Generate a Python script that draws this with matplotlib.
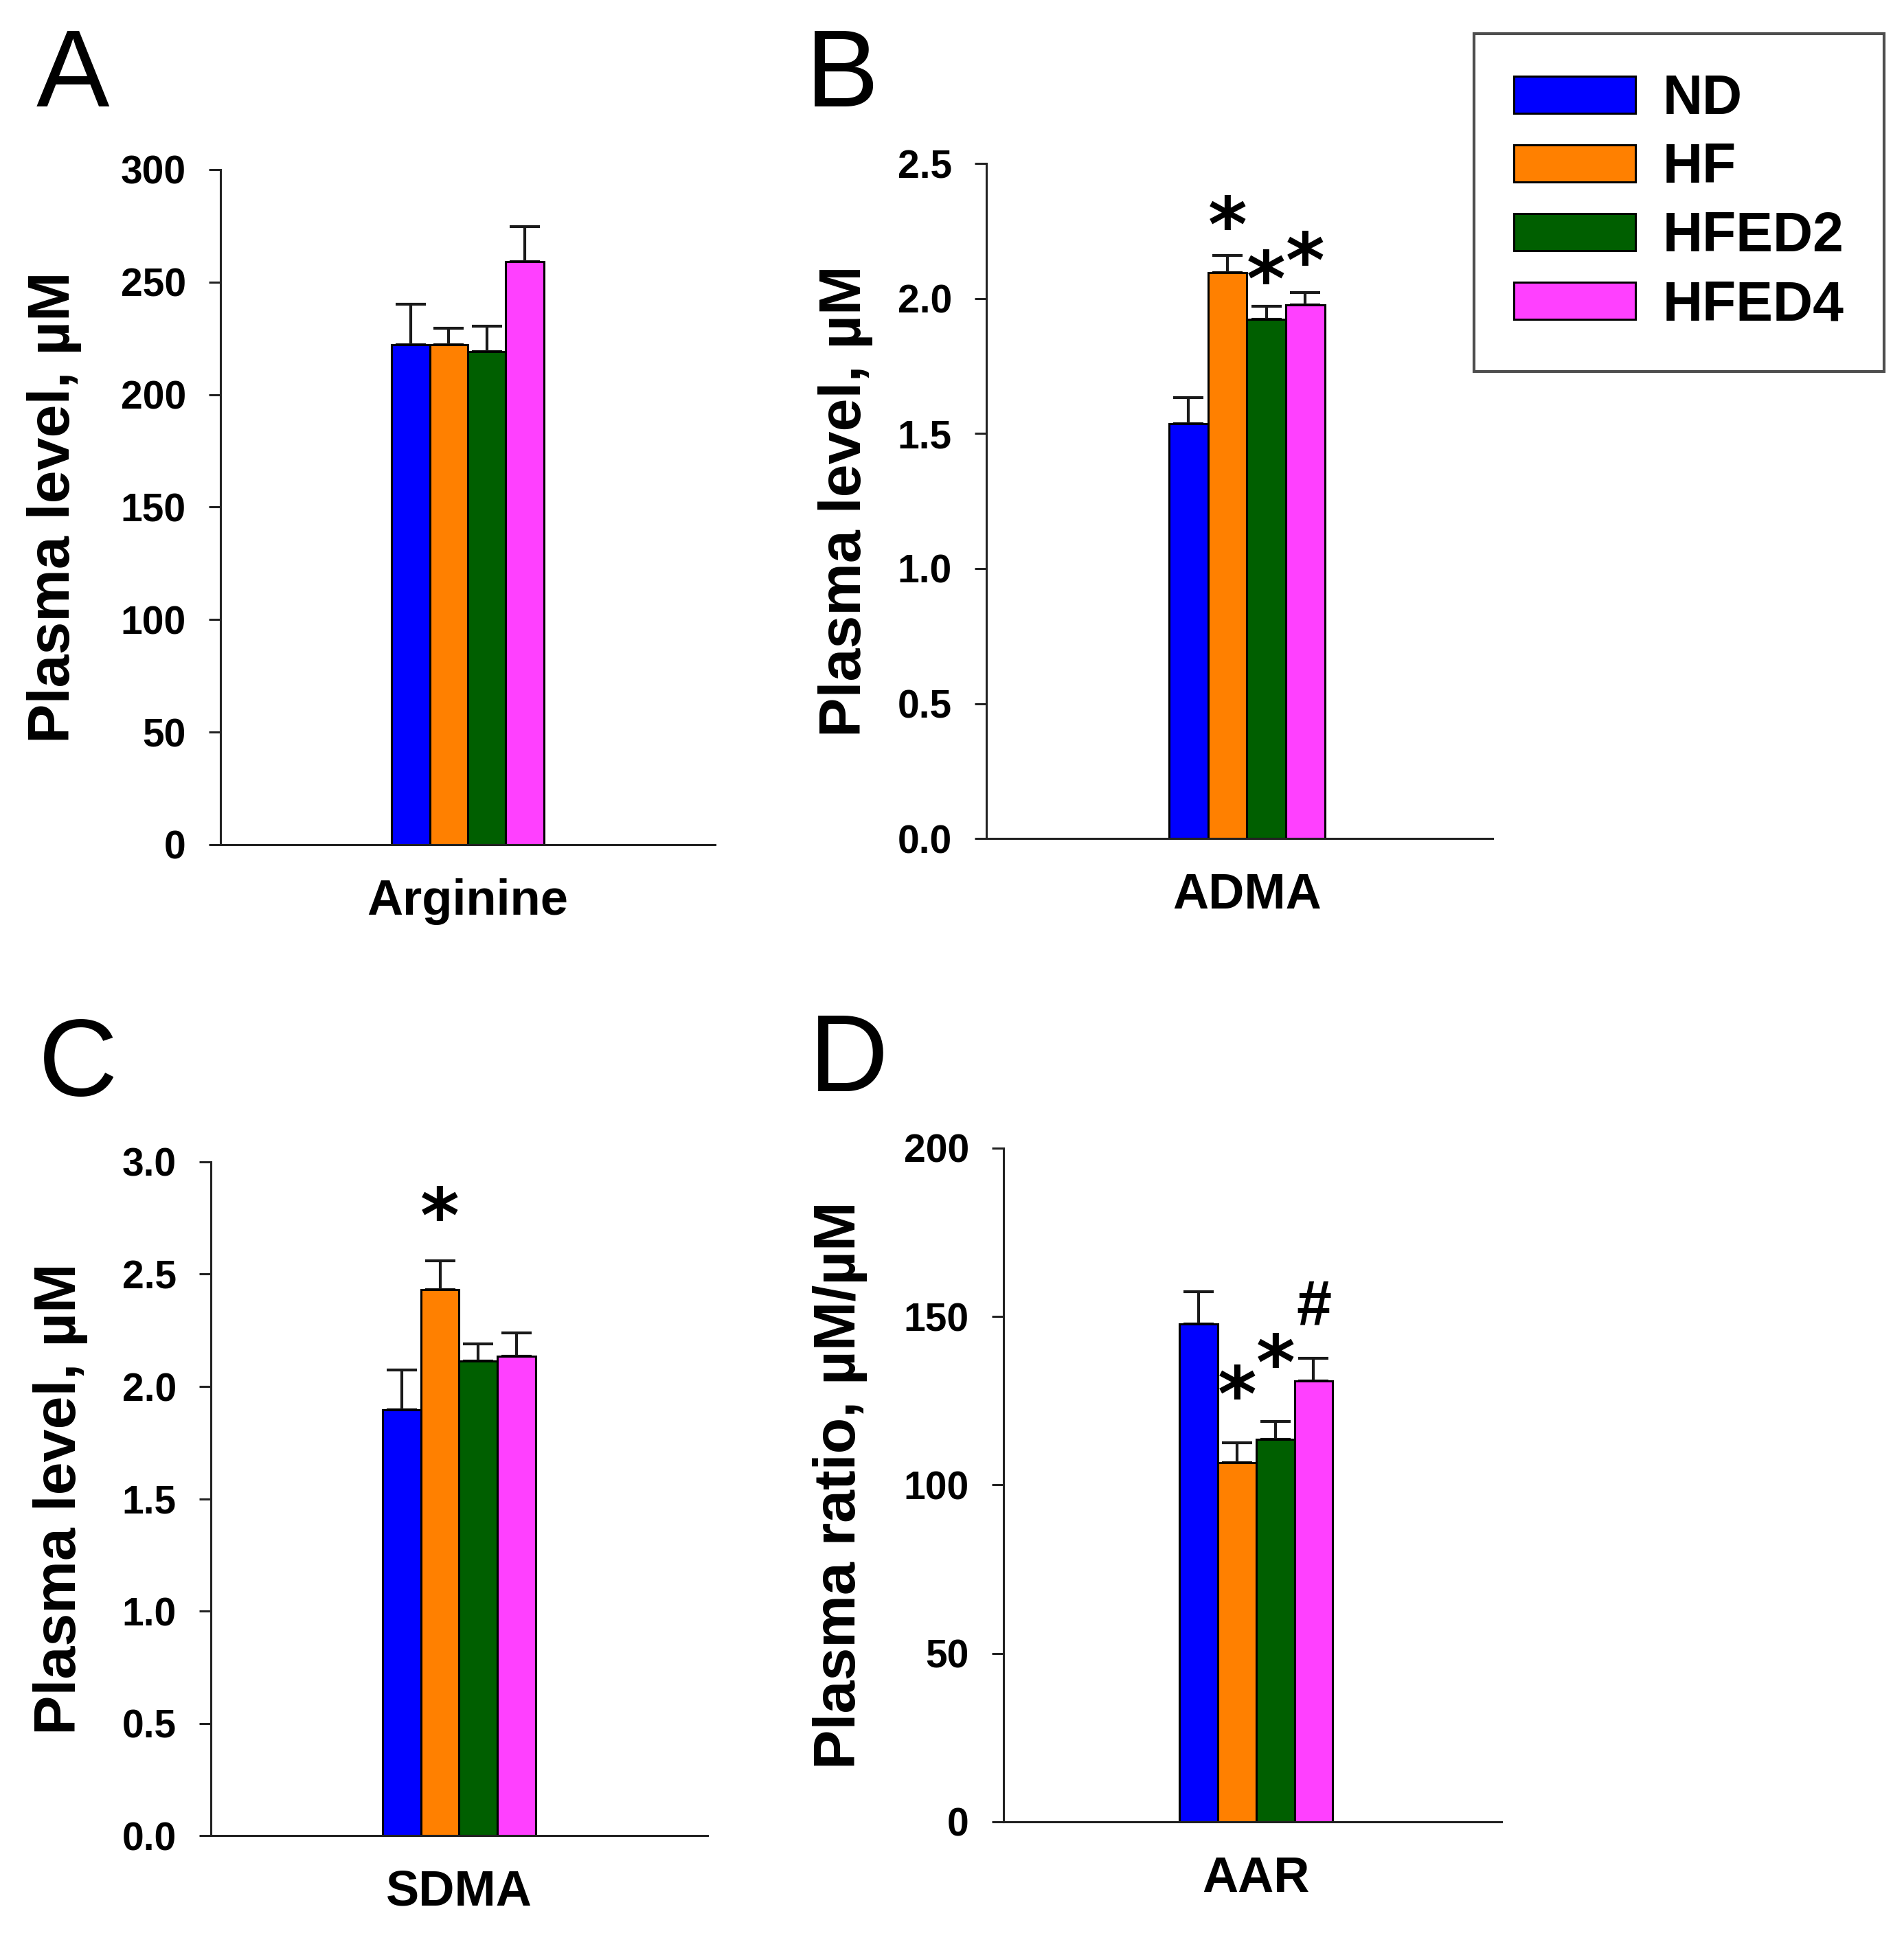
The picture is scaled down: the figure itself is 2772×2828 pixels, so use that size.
import matplotlib
matplotlib.use("Agg")
import matplotlib.pyplot as plt
import numpy as np

plt.rcParams['font.family'] = ['Liberation Sans', 'DejaVu Sans']

groups = ["ND", "HF", "HFED2", "HFED4"]
colors = ["#0000ff", "#ff8000", "#005f00", "#ff40ff"]

# panel data: mean and SEM (upper error only)
arginine_mean = [222, 222, 219, 259]
arginine_err = [18, 7.5, 11.5, 15.5]
adma_mean = [1.537, 2.096, 1.922, 1.977]
adma_err = [0.096, 0.064, 0.050, 0.046]
sdma_mean = [1.897, 2.432, 2.112, 2.134]
sdma_err = [0.177, 0.128, 0.078, 0.106]
aar_mean = [147.8, 106.6, 113.6, 130.9]
aar_err = [9.6, 5.9, 5.2, 6.6]

panels = [
    dict(letter="A", cat="Arginine", mean=arginine_mean, err=arginine_err,
         ylim=300, ticks=[0, 50, 100, 150, 200, 250, 300], fmt="{:.0f}",
         ylabel="Plasma level, µM", marks=["", "", "", ""]),
    dict(letter="B", cat="ADMA", mean=adma_mean, err=adma_err,
         ylim=2.5, ticks=[0, 0.5, 1.0, 1.5, 2.0, 2.5], fmt="{:.1f}",
         ylabel="Plasma level, µM", marks=["", "*", "*", "*"]),
    dict(letter="C", cat="SDMA", mean=sdma_mean, err=sdma_err,
         ylim=3.0, ticks=[0, 0.5, 1.0, 1.5, 2.0, 2.5, 3.0], fmt="{:.1f}",
         ylabel="Plasma level, µM", marks=["", "*", "", ""]),
    dict(letter="D", cat="AAR", mean=aar_mean, err=aar_err,
         ylim=200, ticks=[0, 50, 100, 150, 200], fmt="{:.0f}",
         ylabel="Plasma ratio, µM/µM", marks=["", "*", "*", "#"]),
]

# layout: axes rectangles (figure fraction), letters, label positions
rects = [
    [0.1158, 0.5651, 0.2597, 0.3476],
    [0.5180, 0.5682, 0.2659, 0.3476],
    [0.1107, 0.0548, 0.2608, 0.3469],
    [0.5270, 0.0619, 0.2615, 0.3469],
]
xshift = [0, 0.19, 0, 0.1]
letter_pos = [(0.019, 0.9452), (0.423, 0.9452), (0.020, 0.4360), (0.425, 0.4380)]
label_x = [-0.28, -0.224, -0.248, -0.273]
# vertical offset (points) of the marker baseline above the error bar top
mark_dy = [
    [0, 0, 0, 0],
    [0, 5, 1, 6],
    [0, 20, 0, 0],
    [0, 24, 35, 36],
]

fig = plt.figure(figsize=(27.72, 28.28), dpi=100)

x = np.arange(4) - 1.5
bar_handles = None
for i, p in enumerate(panels):
    ax = fig.add_axes(rects[i])
    lower = np.zeros(4)
    bars = ax.bar(x, p["mean"], width=1.0, color=colors, edgecolor="black",
                  linewidth=2.2, zorder=2)
    ax.errorbar(x, p["mean"], yerr=[lower, p["err"]], fmt="none", ecolor="#1a1a1a",
                elinewidth=3, capsize=16, capthick=3, zorder=1)
    if bar_handles is None:
        bar_handles = bars
    ax.set_xlim(-6.5 - xshift[i], 6.5 - xshift[i])
    ax.set_ylim(0, p["ylim"])
    ax.set_yticks(p["ticks"])
    ax.set_yticklabels([p["fmt"].format(t) for t in p["ticks"]],
                       fontsize=41, fontweight="bold")
    ax.set_xticks([0])
    ax.set_xticklabels([p["cat"]], fontsize=52, fontweight="bold")
    ax.tick_params(axis="x", length=0, pad=35)
    ax.tick_params(axis="y", length=12, width=2.2, pad=24, color="#222222")
    for s in ["top", "right"]:
        ax.spines[s].set_visible(False)
    for s in ["left", "bottom"]:
        ax.spines[s].set_linewidth(2.2)
        ax.spines[s].set_color("#222222")
    ax.set_ylabel(p["ylabel"], fontsize=62, fontweight="bold")
    ax.yaxis.set_label_coords(label_x[i], 0.5)
    for j, m in enumerate(p["marks"]):
        if m:
            top = p["mean"][j] + p["err"][j]
            if m == "*":
                ax.annotate(m, (x[j], top), xytext=(0, mark_dy[i][j]),
                            textcoords="offset points", ha="center", va="baseline",
                            fontsize=78, fontweight="bold", family="DejaVu Sans")
            else:
                ax.annotate(m, (x[j], top), xytext=(0, mark_dy[i][j]),
                            textcoords="offset points", ha="center", va="baseline",
                            fontsize=66, fontweight="bold")
    fig.text(letter_pos[i][0], letter_pos[i][1], p["letter"], fontsize=115,
             ha="left", va="baseline")

leg = fig.legend(bar_handles, groups, loc="upper right",
                 bbox_to_anchor=(0.9895, 0.9827), borderaxespad=0,
                 prop=dict(size=58, weight="bold"), handlelength=2.2,
                 handleheight=0.66, handletextpad=0.5, labelspacing=0.3,
                 borderpad=0.72, fancybox=False, frameon=True)
leg.get_frame().set_edgecolor("#222222")
leg.get_frame().set_linewidth(3)

fig.savefig("out.png", dpi=100)
